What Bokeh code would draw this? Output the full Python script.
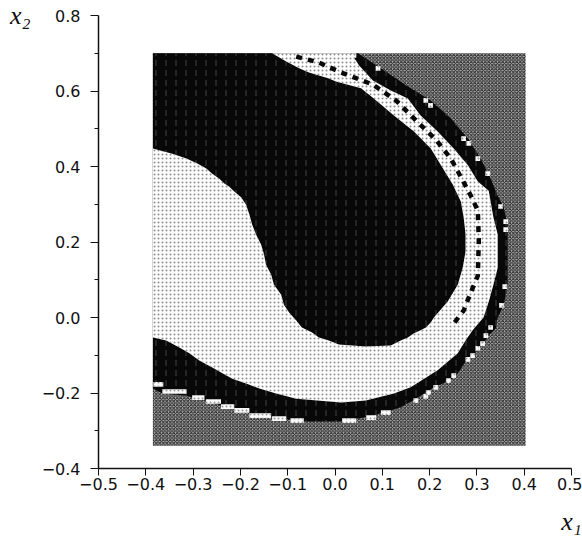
from bokeh.plotting import figure
from bokeh.models import Range1d, FixedTicker, CustomJSTickFormatter
from bokeh.embed import file_html
from bokeh.resources import INLINE

# ---- axes ----
x_ticks = [-0.5, -0.4, -0.3, -0.2, -0.1, 0.0, 0.1, 0.2, 0.3, 0.4, 0.5]
x_tick_labels = ["\u22120.5", "\u22120.4", "\u22120.3", "\u22120.2", "\u22120.1",
                 "0.0", "0.1", "0.2", "0.3", "0.4", "0.5"]
y_ticks = [-0.4, -0.2, 0.0, 0.2, 0.4, 0.6, 0.8]
y_tick_labels = ["\u22120.4", "\u22120.2", "0.0", "0.2", "0.4", "0.6", "0.8"]
y_minor_ticks = [-0.3, -0.1, 0.1, 0.3, 0.5, 0.7]
x_name = "x\u2081"
y_name = "x\u2082"

# ---- sampled window of initial conditions (x1, x2) ----
window_x = [-0.385, 0.403]
window_y = [-0.34, 0.70]

# outer edge of the dark basin (everything inside it is not the grey basin)
dark_x = [-0.385, 0.0485, 0.097, 0.150, 0.2025, 0.245, 0.281, 0.308, 0.329, 0.344,
          0.357, 0.365, 0.365, 0.357, 0.344, 0.340, 0.325, 0.314, 0.304, 0.293,
          0.276, 0.255, 0.238, 0.209, 0.192, 0.1646, 0.139, 0.103, 0.061, 0.013,
          -0.065, -0.135, -0.181, -0.213, -0.2405, -0.276, -0.314, -0.365, -0.385]
dark_y = [0.70, 0.70, 0.660, 0.615, 0.575, 0.527, 0.474, 0.421, 0.368, 0.323,
          0.291, 0.244, 0.087, 0.034, 0.000, -0.029, -0.048, -0.069, -0.082, -0.101,
          -0.117, -0.156, -0.1695, -0.185, -0.199, -0.220, -0.238, -0.252, -0.265, -0.2755,
          -0.2755, -0.265, -0.254, -0.244, -0.233, -0.220, -0.207, -0.201, -0.188]

# light basin: tongue from the left edge joined to the ring around the dark core
light_x = [-0.385, -0.344, -0.314, -0.291, -0.272, -0.2595, -0.245, -0.234, -0.224, -0.213,
           -0.198, -0.188, -0.181, -0.175, -0.167, -0.156, -0.150, -0.146, -0.135, -0.129,
           -0.114, -0.108, -0.097, -0.082, -0.070, -0.0485, -0.034, -0.013, 0.008, 0.065,
           0.118, 0.139, 0.154, 0.167, 0.181, 0.192, 0.2025, 0.209, 0.238, 0.2595,
           0.270, 0.276, 0.276, 0.272, 0.266, 0.249, 0.224, 0.2025, 0.167, 0.1245,
           0.082, 0.055, 0.002, -0.013, -0.055, -0.076, -0.103, -0.133,
           0.034, 0.051, 0.080, 0.118, 0.154, 0.181, 0.217, 0.251, 0.281, 0.302,
           0.325, 0.329, 0.335, 0.344, 0.344, 0.335, 0.325, 0.314, 0.291, 0.276,
           0.2595, 0.217, 0.160, 0.1245, 0.065, 0.013, -0.082, -0.1245, -0.160, -0.188,
           -0.217, -0.238, -0.2595, -0.287, -0.308, -0.329, -0.357, -0.385]
light_y = [0.448, 0.434, 0.421, 0.408, 0.395, 0.381, 0.368, 0.355, 0.347, 0.334,
           0.318, 0.299, 0.273, 0.246, 0.220, 0.193, 0.167, 0.140, 0.114, 0.087,
           0.061, 0.034, 0.013, -0.008, -0.0265, -0.040, -0.053, -0.061, -0.0715, -0.077,
           -0.074, -0.061, -0.053, -0.042, -0.034, -0.0265, -0.013, 0.000, 0.042, 0.087,
           0.132, 0.175, 0.220, 0.265, 0.307, 0.352, 0.403, 0.448, 0.493, 0.535,
           0.580, 0.607, 0.625, 0.633, 0.649, 0.660, 0.678, 0.70,
           0.70, 0.6675, 0.628, 0.601, 0.580, 0.535, 0.493, 0.448, 0.403, 0.360,
           0.336, 0.307, 0.265, 0.220, 0.132, 0.087, 0.042, 0.000, -0.034, -0.061,
           -0.095, -0.140, -0.185, -0.201, -0.220, -0.225, -0.215, -0.201, -0.188, -0.175,
           -0.162, -0.148, -0.1325, -0.114, -0.095, -0.0795, -0.061, -0.053]

# broken chain of dark cells running along the middle of the ring
chain_x = [-0.082, -0.034, 0.013, 0.080, 0.129, 0.171, 0.213, 0.245, 0.270, 0.287,
           0.302, 0.304, 0.302, 0.287, 0.272, 0.251]
chain_y = [0.691, 0.6755, 0.649, 0.617, 0.575, 0.522, 0.4715, 0.421, 0.363, 0.323,
           0.283, 0.204, 0.111, 0.066, 0.0185, -0.016]

# isolated light cells on the edge of the grey basin: left, right, row centre
edge_left = [0.035, 0.086, 0.187, 0.197, 0.267, 0.278, 0.297, 0.318, 0.345, 0.356,
             0.356, 0.354, 0.347, 0.324, 0.314, 0.307, 0.297, 0.286, 0.276, 0.246,
             0.235, 0.208, 0.193, 0.187, 0.166, 0.097, 0.066, 0.015, -0.094, -0.133,
             -0.181, -0.213, -0.241, -0.273, -0.302, -0.365, -0.384]
edge_right = [0.045, 0.096, 0.197, 0.207, 0.277, 0.288, 0.307, 0.328, 0.355, 0.366,
              0.366, 0.364, 0.357, 0.334, 0.324, 0.317, 0.307, 0.296, 0.286, 0.256,
              0.245, 0.218, 0.203, 0.197, 0.176, 0.118, 0.087, 0.045, -0.066, -0.103,
              -0.135, -0.181, -0.213, -0.241, -0.276, -0.314, -0.363]
edge_y = [0.694, 0.660, 0.575, 0.562, 0.474, 0.461, 0.421, 0.381, 0.294, 0.254,
          0.233, 0.082, 0.032, -0.0265, -0.048, -0.069, -0.082, -0.101, -0.111, -0.154,
          -0.167, -0.185, -0.199, -0.209, -0.220, -0.252, -0.265, -0.273, -0.273, -0.268,
          -0.260, -0.246, -0.236, -0.2225, -0.212, -0.196, -0.177]

CELL_H = 0.0125

p = figure(width=582, height=542, output_backend="svg", toolbar_location=None,
           x_range=Range1d(-0.5, 0.5), y_range=Range1d(-0.4, 0.8),
           min_border_left=98, min_border_right=11, min_border_top=15, min_border_bottom=74)
p.outline_line_color = None
p.xgrid.visible = False
p.ygrid.visible = False
p.background_fill_color = "white"
p.border_fill_color = "white"

# grey basin fills the whole sampled window first
p.quad(left=window_x[0], right=window_x[1], bottom=window_y[0], top=window_y[1],
       fill_color="#b0b0b0", line_color=None,
       hatch_pattern="x", hatch_color="#222222", hatch_scale=3.5, hatch_weight=1.0)

p.patch(dark_x, dark_y, fill_color="#080808", line_color=None,
        hatch_pattern=":", hatch_color="#8a8a8a", hatch_scale=10, hatch_weight=1.0,
        hatch_alpha=0.45)

p.patch(light_x, light_y, fill_color="#ffffff", line_color=None,
        hatch_pattern=".", hatch_color="#8c8c8c", hatch_scale=4, hatch_weight=1.3)

p.line(chain_x, chain_y, line_color="#080808", line_width=4.5, line_dash="6 6")

p.quad(left=edge_left, right=edge_right,
       bottom=[v - CELL_H / 2 for v in edge_y], top=[v + CELL_H / 2 for v in edge_y],
       fill_color="#fafafa", line_color=None,
       hatch_pattern=".", hatch_color="#9a9a9a", hatch_scale=4, hatch_weight=1.2)

# ---- axis styling ----
fmt_code = """
for (let i = 0; i < vals.length; i++) { if (Math.abs(vals[i] - tick) < 1e-9) return labels[i]; }
return '';
"""
p.xaxis.ticker = FixedTicker(ticks=x_ticks, minor_ticks=[])
p.yaxis.ticker = FixedTicker(ticks=y_ticks, minor_ticks=y_minor_ticks)
p.xaxis.formatter = CustomJSTickFormatter(args=dict(vals=x_ticks, labels=x_tick_labels), code=fmt_code)
p.yaxis.formatter = CustomJSTickFormatter(args=dict(vals=y_ticks, labels=y_tick_labels), code=fmt_code)

for ax in (p.xaxis, p.yaxis):
    ax.axis_line_color = "#111111"
    ax.axis_line_width = 1.5
    ax.major_tick_line_color = "#111111"
    ax.minor_tick_line_color = "#111111"
    ax.major_tick_in = 0
    ax.minor_tick_in = 0
    ax.major_label_text_font = "DejaVu Sans"
    ax.major_label_text_font_size = "16px"
    ax.major_label_text_color = "#111111"
    ax.axis_label_text_font = "Liberation Serif"
    ax.axis_label_text_font_style = "italic"
    ax.axis_label_text_font_size = "26px"
    ax.axis_label_text_color = "#111111"

p.xaxis.major_tick_out = 7
p.xaxis.major_label_standoff = 2
p.yaxis.major_tick_out = 8
p.yaxis.minor_tick_out = 4
p.yaxis.major_label_standoff = 10

# variable names at the far ends of the axes
p.xaxis.axis_label = x_name
p.yaxis.axis_label = y_name
p.yaxis.axis_label_orientation = "horizontal"
p.xaxis.axis_label_standoff = 14
p.yaxis.axis_label_standoff = 8
xa = p.xaxis[0]
ya = p.yaxis[0]
if "axis_label_align" in xa.properties():
    xa.axis_label_align = "end"
    ya.axis_label_align = "end"

open("out.html", "w").write(file_html(p, INLINE))
